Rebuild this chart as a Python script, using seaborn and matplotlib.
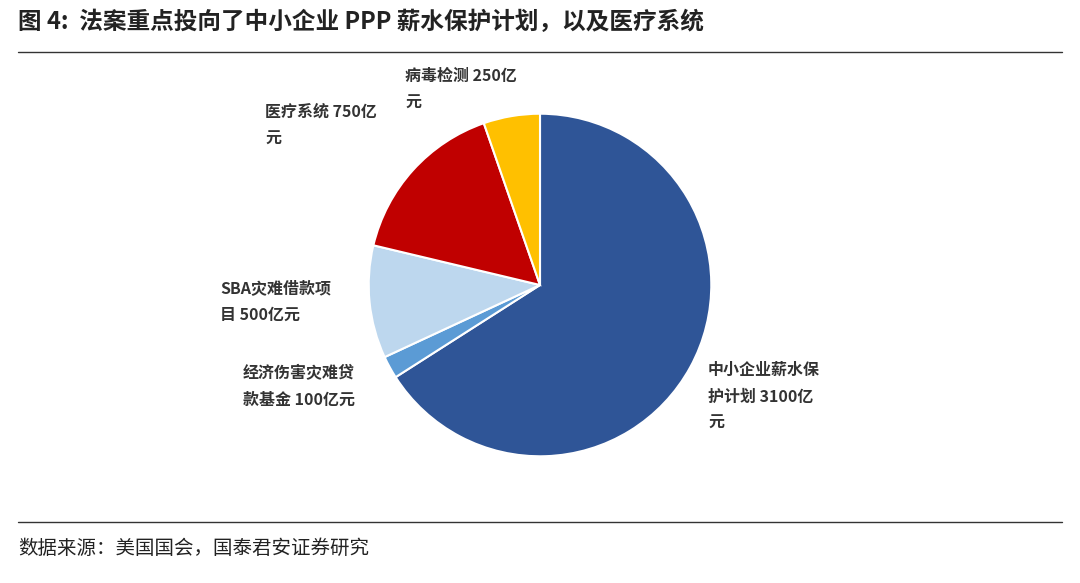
import matplotlib
matplotlib.use('Agg')
import matplotlib.pyplot as plt
import seaborn as sns

sns.set_theme(style='white')
plt.rcParams['font.family'] = ['Noto Sans CJK SC', 'DejaVu Sans']

# data
items = ['中小企业薪水保护计划', '经济伤害灾难贷款基金', 'SBA灾难借款项目', '医疗系统', '病毒检测']
amounts = [3100, 100, 500, 750, 250]
label_texts = ['中小企业薪水保\n护计划 3100亿\n元', '经济伤害灾难贷\n款基金 100亿元',
               'SBA灾难借款项\n目 500亿元', '医疗系统 750亿\n元', '病毒检测 250亿\n元']
colors = ['#2F5597', '#5B9BD5', '#BDD7EE', '#C00000', '#FFC000']

W, H = 1080, 583
fig = plt.figure(figsize=(W / 100, H / 100), dpi=100)

cx, cy, r = 540, 285, 173
ax = fig.add_axes([(cx - r) / W, (H - cy - r) / H, 2 * r / W, 2 * r / H])
ax.pie(amounts, colors=colors, startangle=90, counterclock=False,
       wedgeprops=dict(edgecolor='white', linewidth=1.5))
ax.set_xlim(-1.01, 1.01)
ax.set_ylim(-1.01, 1.01)
ax.set_aspect('equal')
ax.axis('off')

# label positions (pixels, left/top of text block)
label_pos = [(708, 362), (243, 365), (220, 280), (265, 104), (405, 68)]
for txt, (x, y) in zip(label_texts, label_pos):
    fig.text(x / W, 1 - y / H, txt, ha='left', va='top', fontsize=11.5,
             fontweight='bold', color='#333333', linespacing=1.8)

fig.text(18 / W, 1 - 22 / H, '图 4:  法案重点投向了中小企业 PPP 薪水保护计划，以及医疗系统',
         ha='left', va='center', fontsize=17, fontweight='bold', color='#222222')
fig.add_artist(plt.Line2D([18 / W, 1062 / W], [1 - 52 / H] * 2, color='#333333', lw=1))
fig.add_artist(plt.Line2D([18 / W, 1062 / W], [1 - 522 / H] * 2, color='#333333', lw=1))
fig.text(18 / W, 1 - 548 / H, '数据来源：美国国会，国泰君安证券研究',
         ha='left', va='center', fontsize=14, color='#222222')

fig.savefig('out.png', dpi=100)
